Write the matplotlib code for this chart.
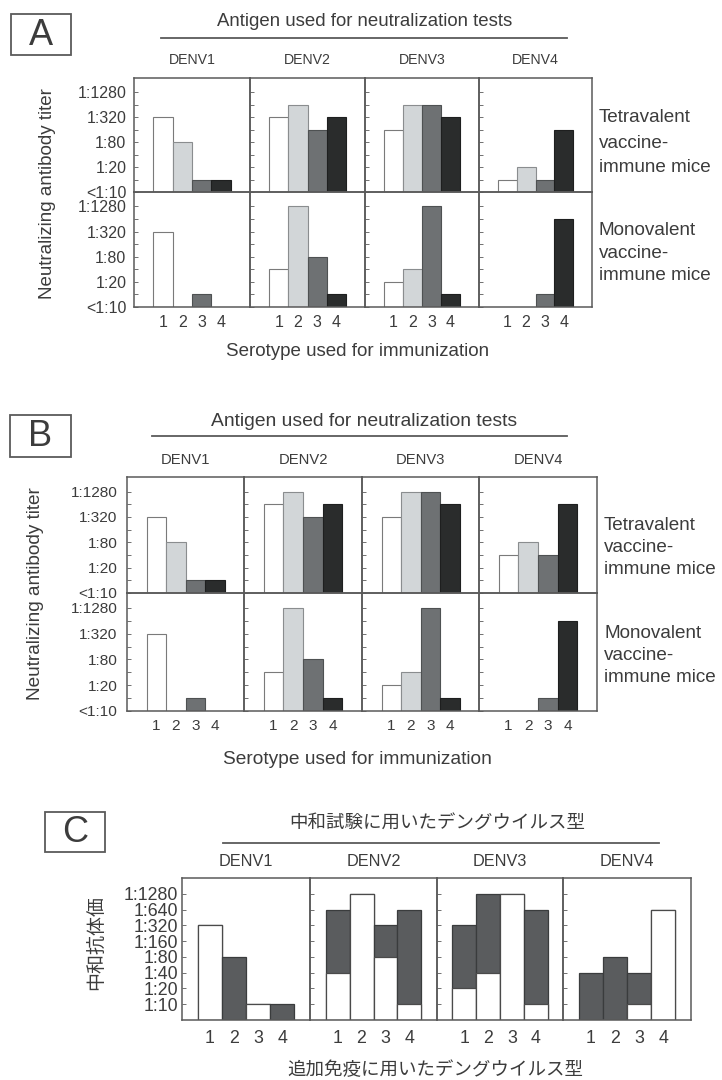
import numpy as np
import matplotlib
matplotlib.use('Agg')
import matplotlib.pyplot as plt
from matplotlib import patches
from matplotlib.ticker import NullLocator, FixedLocator, FixedFormatter

# ---------------- data ----------------
antigens = ['DENV1', 'DENV2', 'DENV3', 'DENV4']
serotypes = ['1', '2', '3', '4']
ab_tick_titers = [5, 20, 80, 320, 1280]          # 5 = baseline "<1:10"
ab_tick_labels = ['<1:10', '1:20', '1:80', '1:320', '1:1280']
c_tick_titers = [10, 20, 40, 80, 160, 320, 640, 1280]
c_tick_labels = ['1:10', '1:20', '1:40', '1:80', '1:160', '1:320', '1:640', '1:1280']

# reciprocal neutralizing titers; rows = antigen DENV1..4, cols = serotype 1..4; 0 = <1:10
A_tetra = [[320, 80, 10, 10], [320, 640, 160, 320], [160, 640, 640, 320], [10, 20, 10, 160]]
A_mono = [[320, 0, 10, 0], [40, 1280, 80, 10], [20, 40, 1280, 10], [0, 0, 10, 640]]
B_tetra = [[320, 80, 10, 10], [640, 1280, 320, 640], [320, 1280, 1280, 640], [40, 80, 40, 640]]
B_mono = [[320, 0, 10, 0], [40, 1280, 80, 10], [20, 40, 1280, 10], [0, 0, 10, 640]]
C_before = [[320, 0, 10, 0], [40, 1280, 80, 10], [20, 40, 1280, 10], [0, 0, 10, 640]]
C_after = [[320, 80, 10, 10], [640, 1280, 320, 640], [320, 1280, 1280, 640], [40, 80, 40, 640]]

# ---------------- style ----------------
W, H, DPI = 722, 1080, 100
BASE = 5
LAT = ['Liberation Sans', 'DejaVu Sans']
JP = ['Noto Sans CJK JP', 'DejaVu Sans']
TXT = '#3c3c3c'
FRAME = '#5a5a5a'
bar_colors = ['#ffffff', '#d2d6d8', '#6e7173', '#2a2c2c']
bar_edges = ['#7a7a7a', '#8a8d8f', '#4e5152', '#1e1f1f']
C_DARK = '#5a5c5e'

fig = plt.figure(figsize=(W / DPI, H / DPI), dpi=DPI)
fig.patch.set_facecolor('white')
renderer = fig.canvas.get_renderer()


def fy(y):
    return 1 - y / H


def px_rect(x0, y0, x1, y1):
    return [x0 / W, 1 - y1 / H, (x1 - x0) / W, (y1 - y0) / H]


def size_for(s, target, family, probe=10.0):
    t = fig.text(0, 0, s, fontsize=probe, family=family)
    bb = t.get_window_extent(renderer)
    t.remove()
    return probe * target / bb.width


def fit_text(x, y, s, target, family=LAT, rotation=0, ha='center', va='center', **kw):
    fs = size_for(s, target, family)
    return fig.text(x / W, fy(y), s, fontsize=fs, family=family, rotation=rotation,
                    ha=ha, va=va, color=TXT, **kw)


def hline(x0, x1, y, lw=1.3):
    fig.add_artist(plt.Line2D([x0 / W, x1 / W], [fy(y), fy(y)], color=FRAME, lw=lw))


def letter_box(x0, y0, x1, y1, s):
    fig.add_artist(patches.Rectangle((x0 / W, fy(y1)), (x1 - x0) / W, (y1 - y0) / H,
                                     transform=fig.transFigure, fill=False,
                                     edgecolor=FRAME, lw=1.3))
    fig.text((x0 + x1) / 2 / W, fy((y0 + y1) / 2 + 1), s, fontsize=26, family=LAT,
             ha='center', va='center', color=TXT)


def style_axis(ax, ylim_top_lv, minor_titers, lab_titers, labels, show_labels,
               tick_fs, ypad, xlim, show_x, xpad):
    ax.set_yscale('log', base=2)
    ax.set_ylim(BASE, BASE * 2 ** ylim_top_lv)
    ax.set_xlim(*xlim)
    ax.yaxis.set_major_locator(FixedLocator(minor_titers))
    lab = [labels[lab_titers.index(t)] if (t in lab_titers and show_labels) else ''
           for t in minor_titers]
    ax.yaxis.set_major_formatter(FixedFormatter(lab))
    ax.yaxis.set_minor_locator(NullLocator())
    ax.tick_params(axis='y', direction='in', length=3, width=0.6, color=FRAME,
                   labelsize=tick_fs, labelcolor=TXT, pad=ypad)
    for lbl in ax.get_yticklabels():
        lbl.set_family(LAT)
    if show_x:
        ax.set_xticks([1, 2, 3, 4])
        ax.set_xticklabels(serotypes, family=LAT)
        ax.tick_params(axis='x', length=0, labelsize=tick_fs, labelcolor=TXT, pad=xpad)
    else:
        ax.set_xticks([])
    for sp in ax.spines.values():
        sp.set_color(FRAME)
        sp.set_linewidth(1.1)
    ax.set_facecolor('none')


def draw_rows(xedges, rows, tick_fs, ypad, xpad):
    for r, (ytop, ybot, data) in enumerate(rows):
        for i, vals in enumerate(data):
            ax = fig.add_axes(px_rect(xedges[i], ytop, xedges[i + 1], ybot))
            for j, v in enumerate(vals):
                if v > 0:
                    ax.bar(j + 1, v - BASE, bottom=BASE, width=1.0, color=bar_colors[j],
                           edgecolor=bar_edges[j], linewidth=0.8)
            style_axis(ax, 9.15, [BASE * 2 ** k for k in range(9)], ab_tick_titers,
                       ab_tick_labels, i == 0, tick_fs, ypad, (-0.5, 5.5),
                       r == len(rows) - 1, xpad)


# ================= Panel A =================
letter_box(11, 14, 71, 55, 'A')
fit_text(365, 22, 'Antigen used for neutralization tests', 297)
hline(161, 567, 38)
fsA = size_for('DENV1', 47, LAT)
xeA = [134, 250, 365, 479, 592]
for i, a in enumerate(antigens):
    fig.text((xeA[i] + xeA[i + 1]) / 2 / W, fy(60), a, fontsize=fsA, family=LAT,
             ha='center', va='center', color=TXT)
tickA = size_for('1:1280', 49, LAT)
draw_rows(xeA, [(78, 192, A_tetra), (192, 307, A_mono)], tickA, 5.5, 6)
fit_text(48, 194, 'Neutralizing antibody titer', 212, rotation=90)
fit_text(358, 352, 'Serotype used for immunization', 265)
rfs = size_for('immune mice', 113, LAT)
for y, s in [(118, 'Tetravalent'), (143, 'vaccine-'), (167, 'immune mice'),
             (230, 'Monovalent'), (253, 'vaccine-'), (275, 'immune mice')]:
    fig.text(599 / W, fy(y), s, fontsize=rfs, family=LAT, ha='left', va='center', color=TXT)

# ================= Panel B =================
letter_box(10, 415, 71, 457, 'B')
fit_text(364, 422, 'Antigen used for neutralization tests', 308)
hline(152, 567, 436)
fsB = size_for('DENV1', 49, LAT)
xeB = [127, 244, 362, 479, 597]
for i, a in enumerate(antigens):
    fig.text((xeB[i] + xeB[i + 1]) / 2 / W, fy(460), a, fontsize=fsB, family=LAT,
             ha='center', va='center', color=TXT)
tickB = size_for('1:1280', 47, LAT)
draw_rows(xeB, [(477, 593, B_tetra), (593, 711, B_mono)], tickB, 7, 6)
fit_text(36, 594, 'Neutralizing antibody titer', 215, rotation=90)
fit_text(357, 760, 'Serotype used for immunization', 271)
for y, s in [(525, 'Tetravalent'), (547, 'vaccine-'), (569, 'immune mice'),
             (633, 'Monovalent'), (656, 'vaccine-'), (678, 'immune mice')]:
    fig.text(604 / W, fy(y), s, fontsize=rfs, family=LAT, ha='left', va='center', color=TXT)

# ================= Panel C =================
letter_box(45, 812, 105, 852, 'C')
fit_text(437, 823, '中和試験に用いたデングウイルス型', 295, family=JP)
hline(223, 659, 843)
fsC = size_for('DENV1', 54, LAT)
xeC = [182, 310, 437, 563, 691]
for i, a in enumerate(antigens):
    fig.text((xeC[i] + xeC[i + 1]) / 2 / W, fy(862), a, fontsize=fsC, family=LAT,
             ha='center', va='center', color=TXT)
tickC = size_for('1:1280', 54, LAT)
for i in range(4):
    ax = fig.add_axes(px_rect(xeC[i], 878, xeC[i + 1], 1020))
    for j in range(4):
        after, before = C_after[i][j], C_before[i][j]
        if after > 0:
            ax.bar(j + 1, after - BASE, bottom=BASE, width=1.0, color=C_DARK,
                   edgecolor='#3a3c3d', linewidth=0.9)
        if before > 0:
            ax.bar(j + 1, before - BASE, bottom=BASE, width=1.0, color='#ffffff',
                   edgecolor='#4a4a4a', linewidth=0.9)
    style_axis(ax, 9.0, [BASE * 2 ** k for k in range(1, 9)], c_tick_titers,
               c_tick_labels, i == 0, tickC, 3, (-0.15, 5.15), True, 7)
fit_text(97, 943, '中和抗体価', 95, family=JP, rotation=90)
fit_text(435, 1070, '追加免疫に用いたデングウイルス型', 295, family=JP)

fig.savefig('out.png', dpi=DPI, facecolor='white')
